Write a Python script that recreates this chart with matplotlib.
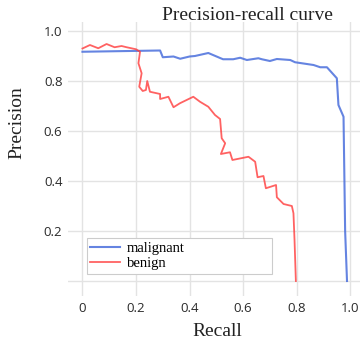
import matplotlib
matplotlib.use("Agg")
from matplotlib import pyplot as plt

# malignant curve (recall, precision)
mal_recall = [0.0, 0.29, 0.30, 0.34, 0.365, 0.40, 0.42, 0.47, 0.525, 0.563, 0.589,
              0.614, 0.657, 0.67, 0.70, 0.726, 0.776, 0.794, 0.863, 0.888, 0.913,
              0.95, 0.956, 0.975, 0.981, 0.988]
mal_precision = [0.917, 0.922, 0.895, 0.898, 0.889, 0.898, 0.90, 0.912, 0.887, 0.887, 0.893,
                 0.884, 0.891, 0.887, 0.880, 0.888, 0.884, 0.875, 0.864, 0.855, 0.855,
                 0.811, 0.704, 0.657, 0.20, 0.0]

# benign curve
ben_recall = [0.0, 0.028, 0.059, 0.09, 0.12, 0.146, 0.165, 0.20, 0.215, 0.209, 0.221,
              0.212, 0.225, 0.237, 0.242, 0.252, 0.29, 0.29, 0.321, 0.34, 0.364,
              0.414, 0.439, 0.47, 0.495, 0.514, 0.52, 0.533, 0.517, 0.551, 0.56,
              0.62, 0.645, 0.654, 0.676, 0.685, 0.723, 0.726, 0.751, 0.782, 0.788,
              0.792, 0.797]
ben_precision = [0.93, 0.944, 0.931, 0.948, 0.935, 0.94, 0.935, 0.927, 0.917, 0.871, 0.831,
                 0.777, 0.76, 0.764, 0.80, 0.757, 0.748, 0.728, 0.737, 0.695, 0.711,
                 0.737, 0.717, 0.697, 0.664, 0.648, 0.571, 0.551, 0.508, 0.515, 0.484,
                 0.497, 0.477, 0.415, 0.42, 0.371, 0.384, 0.335, 0.308, 0.30, 0.271,
                 0.164, 0.0]

x_ticks = [0, 0.2, 0.4, 0.6, 0.8, 1.0]
x_labels = ["0", "0.2", "0.4", "0.6", "0.8", "1.0"]
y_ticks = [0.2, 0.4, 0.6, 0.8, 1.0]
y_labels = ["0.2", "0.4", "0.6", "0.8", "1.0"]

serif = "Liberation Serif"
W, H = 360, 345
fig = plt.figure(figsize=(3.6, 3.45), dpi=100)
ax = fig.add_axes([68 / W, 1 - 296 / H, 309 / W, 274 / H])

ax.plot(mal_recall, mal_precision, color="#4a6fdc", lw=1.5, alpha=0.85, label="malignant")
ax.plot(ben_recall, ben_precision, color="#ff3b3b", lw=1.3, alpha=0.8, label="benign")

ax.set_xlim(-0.054, 1.1)
ax.set_ylim(-0.06, 1.036)
ax.set_xticks(x_ticks)
ax.set_xticklabels(x_labels)
ax.set_yticks(y_ticks)
ax.set_yticklabels(y_labels)
ax.set_yticks([0.0], minor=True)
ax.grid(True, color="#e3e3e3", lw=1.0)
ax.grid(True, which="minor", axis="y", color="#e3e3e3", lw=1.0)
ax.set_axisbelow(True)
for s in ax.spines.values():
    s.set_visible(False)
ax.tick_params(length=0, labelsize=9.5, labelcolor="#2a2a2a", pad=4)
ax.tick_params(which="minor", length=0)
for t in ax.get_xticklabels() + ax.get_yticklabels():
    t.set_family("Open Sans")

fig.text(217 / W, 1 - 332 / H, "Recall", family=serif, fontsize=14,
         color="#222222", ha="center", va="center")
fig.text(17 / W, 1 - 123 / H, "Precision", family=serif, fontsize=14,
         color="#222222", ha="center", va="center", rotation=90)
fig.text(247 / W, 1 - 15 / H, "Precision-recall curve", family=serif, fontsize=14,
         color="#222222", ha="center", va="center")

leg = ax.legend(loc="lower left", bbox_to_anchor=(0.061, 0.08, 0.599, 0.135), mode="expand",
                prop={"family": serif, "size": 10.5},
                frameon=True, fancybox=False, handlelength=2.0, borderpad=0.25,
                labelspacing=0.15, handletextpad=0.5, borderaxespad=0)
leg.get_frame().set_edgecolor("#cccccc")
leg.get_frame().set_linewidth(0.8)
leg.get_frame().set_alpha(1)

fig.savefig("out.png", dpi=100)
